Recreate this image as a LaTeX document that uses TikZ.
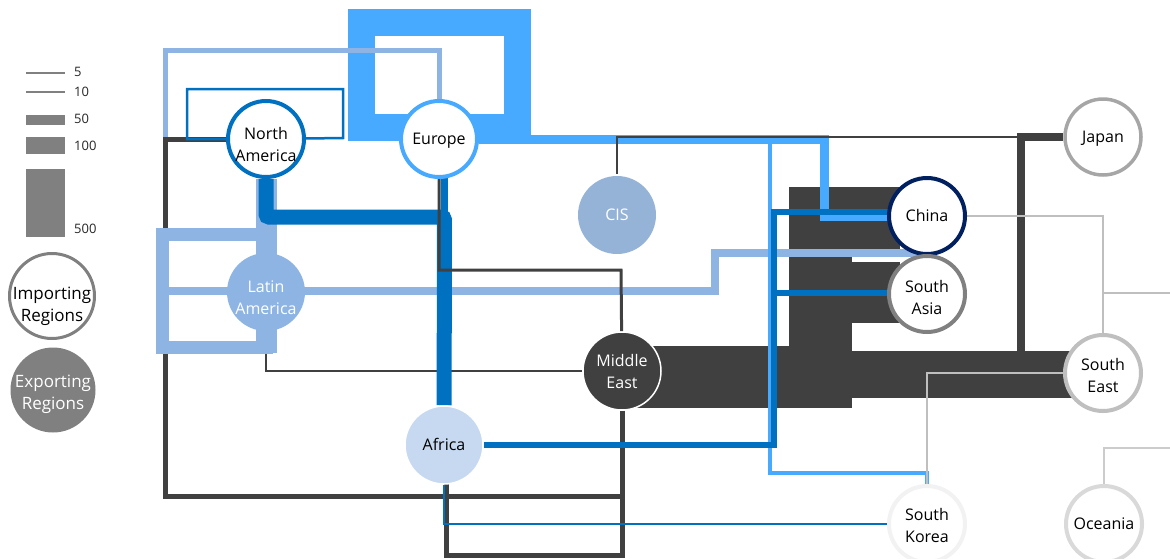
\documentclass[tikz,border=0pt]{standalone}
\usepackage{fontspec}
\setmainfont{Open Sans}
\usetikzlibrary{positioning,calc}
\pgfdeclarelayer{background}
\pgfsetlayers{background,main}

\definecolor{nablue}{RGB}{0,112,192}
\definecolor{eublue}{RGB}{72,170,255}
\definecolor{lablue}{RGB}{141,180,226}
\definecolor{cisblue}{RGB}{149,179,215}
\definecolor{afrblue}{RGB}{198,217,241}
\definecolor{medark}{RGB}{64,64,64}
\definecolor{chinanavy}{RGB}{0,32,96}
\definecolor{leggray}{RGB}{128,128,128}
\definecolor{thingray}{RGB}{191,191,191}

\begin{document}
\begin{tikzpicture}[x=1pt, y=-1pt, line join=miter]
\tikzset{region/.style={circle, minimum size=76pt, inner sep=0pt, align=center, fill=white, line width=4pt, text=black, font=\fontsize{16}{22}\selectfont,
    text height=16pt, text depth=4.6pt},
  twoline/.style={text height=#1, text depth=0pt},
  exporter/.style={region, draw=none, minimum size=78pt, text=white},
  legtext/.style={anchor=west, inner sep=0pt, text=black!85, font=\fontsize{13}{13}\selectfont},
  legcircle/.style={region, minimum size=85pt, inner sep=-10pt, font=\fontsize{17}{22}\selectfont}
}
\useasboundingbox (0,0) rectangle (1170,558);

% legend
\draw[leggray, line width=1.5pt] (26,73) -- (65,73);
\draw[leggray, line width=2pt] (26,92) -- (65,92);
\fill[leggray] (26,115) rectangle (65,125);
\fill[leggray] (26,137) rectangle (65,154);
\fill[leggray] (26,169) rectangle (65,237);
\node[legtext] (l5) at (74,72) {5};
\node[legtext] (l10) at (74,92) {10};
\node[legtext] (l50) at (74,119) {50};
\node[legtext] (l100) at (74,146) {100};
\node[legtext] (l500) at (74,229) {500};
\node[legcircle, draw=leggray, line width=3pt, twoline=51pt] (imp) at (52,296) {Importing\\Regions};
\node[legcircle, draw=none, fill=leggray, text=white, twoline=39.8pt] (exp) at (53,390) {Exporting\\Regions};

% regions
\node[region, draw=nablue, twoline=44pt] (na) at (266,139) {North\\America};
\node[region, draw=eublue] (eur) at (439,139) {Europe};
\node[exporter, fill=lablue, twoline=44.8pt] (latam) at (266,292) {Latin\\America};
\node[exporter, fill=cisblue] (cis) at (617,215) {CIS};
\node[exporter, draw=white, line width=1.5pt, fill=medark, twoline=35.4pt] (me) at (622,371) {Middle\\East};
\node[exporter, draw=white, line width=1.5pt, fill=afrblue, text=black] (afr) at (444,445) {Africa};
\node[region, draw=chinanavy] (china) at (927,216) {China};
\node[region, draw=black!50, twoline=40.4pt, below=-2pt of china] (sasia) {South\\Asia};
\node[region, draw=black!35, line width=3.5pt] (japan) at (1103,137) {Japan};
\node[region, draw=black!25, twoline=39.4pt] (seast) at (1103,373) {South\\East};
\node[region, draw=black!5, twoline=37.8pt] (skorea) at (927,524) {South\\Korea};
\node[region, draw=black!15] (oceania) at (1104,524) {Oceania};

\begin{pgfonlayer}{background}
\draw[eublue, line width=27pt] ($(eur)+(0,-12)$) -| (361.5,22.5) -| (517.5,127) -- ($(eur)+(0,-12)$);
\draw[medark, line width=47pt] ($(me)+(0,3.5)$) -- ($(seast)+(0,1.5)$);
\draw[medark, line width=62.5pt] ($(me)+(0,6)$) -| (820.5,222) -- (900,222);
\draw[medark, line width=70pt] (789,222) -- (900,222);
\draw[medark, line width=61pt] (820.5,292.5) -- (900,292.5);
\draw[medark, line width=8pt] (1021,374) |- (japan);
\draw[medark, line width=2.5pt] (latam) |- (me);
\draw[lablue, line width=5pt] (165,235) |- (439,50) -- (eur);
\draw[medark, line width=5pt] (me) |- (165,496) |- (na);
\draw[medark, line width=5pt] (me) |- (446,555) -- (446,445);
\draw[nablue, line width=2.5pt] (na) -| (187,89) -| (343,138) -- (na);
\draw[lablue, line width=13pt] (latam) |- (162.5,234.5) |- (266,347) -- (latam);
\draw[lablue, line width=21pt] (266,353) -- (na);
\draw[lablue, line width=8pt] (162.5,291) -- (715,291) |- (920,252.5);
\draw[nablue, line width=15pt, rounded corners=3pt] (na) |- (444.5,217) -- (afr);
\draw[nablue, line width=7pt] (afr) -- (afr |- eur);
\draw[medark, line width=3pt] (eur) |- (621,270) -- (me);
\draw[eublue, line width=9pt] (eur) -| (824,216) -- (900,216);
\draw[eublue, line width=4pt] (eur) -| (770,473) -| (skorea);
\draw[nablue, line width=6pt] (afr) -| (774,212) -- (900,212);
\draw[nablue, line width=6pt] (774,293) -- (900,293);
\draw[nablue, line width=2pt] (afr) |- (skorea);
\draw[medark, line width=2pt] (cis) |- (japan);
\draw[thingray, line width=2pt] (china) -| (seast);
\draw[thingray, line width=2pt] (1103,293) -- (1170,293);
\draw[thingray, line width=2pt] (seast) -| (skorea);
\draw[black!20, line width=2pt] (oceania) |- (1170,448);
\end{pgfonlayer}
\end{tikzpicture}
\end{document}
